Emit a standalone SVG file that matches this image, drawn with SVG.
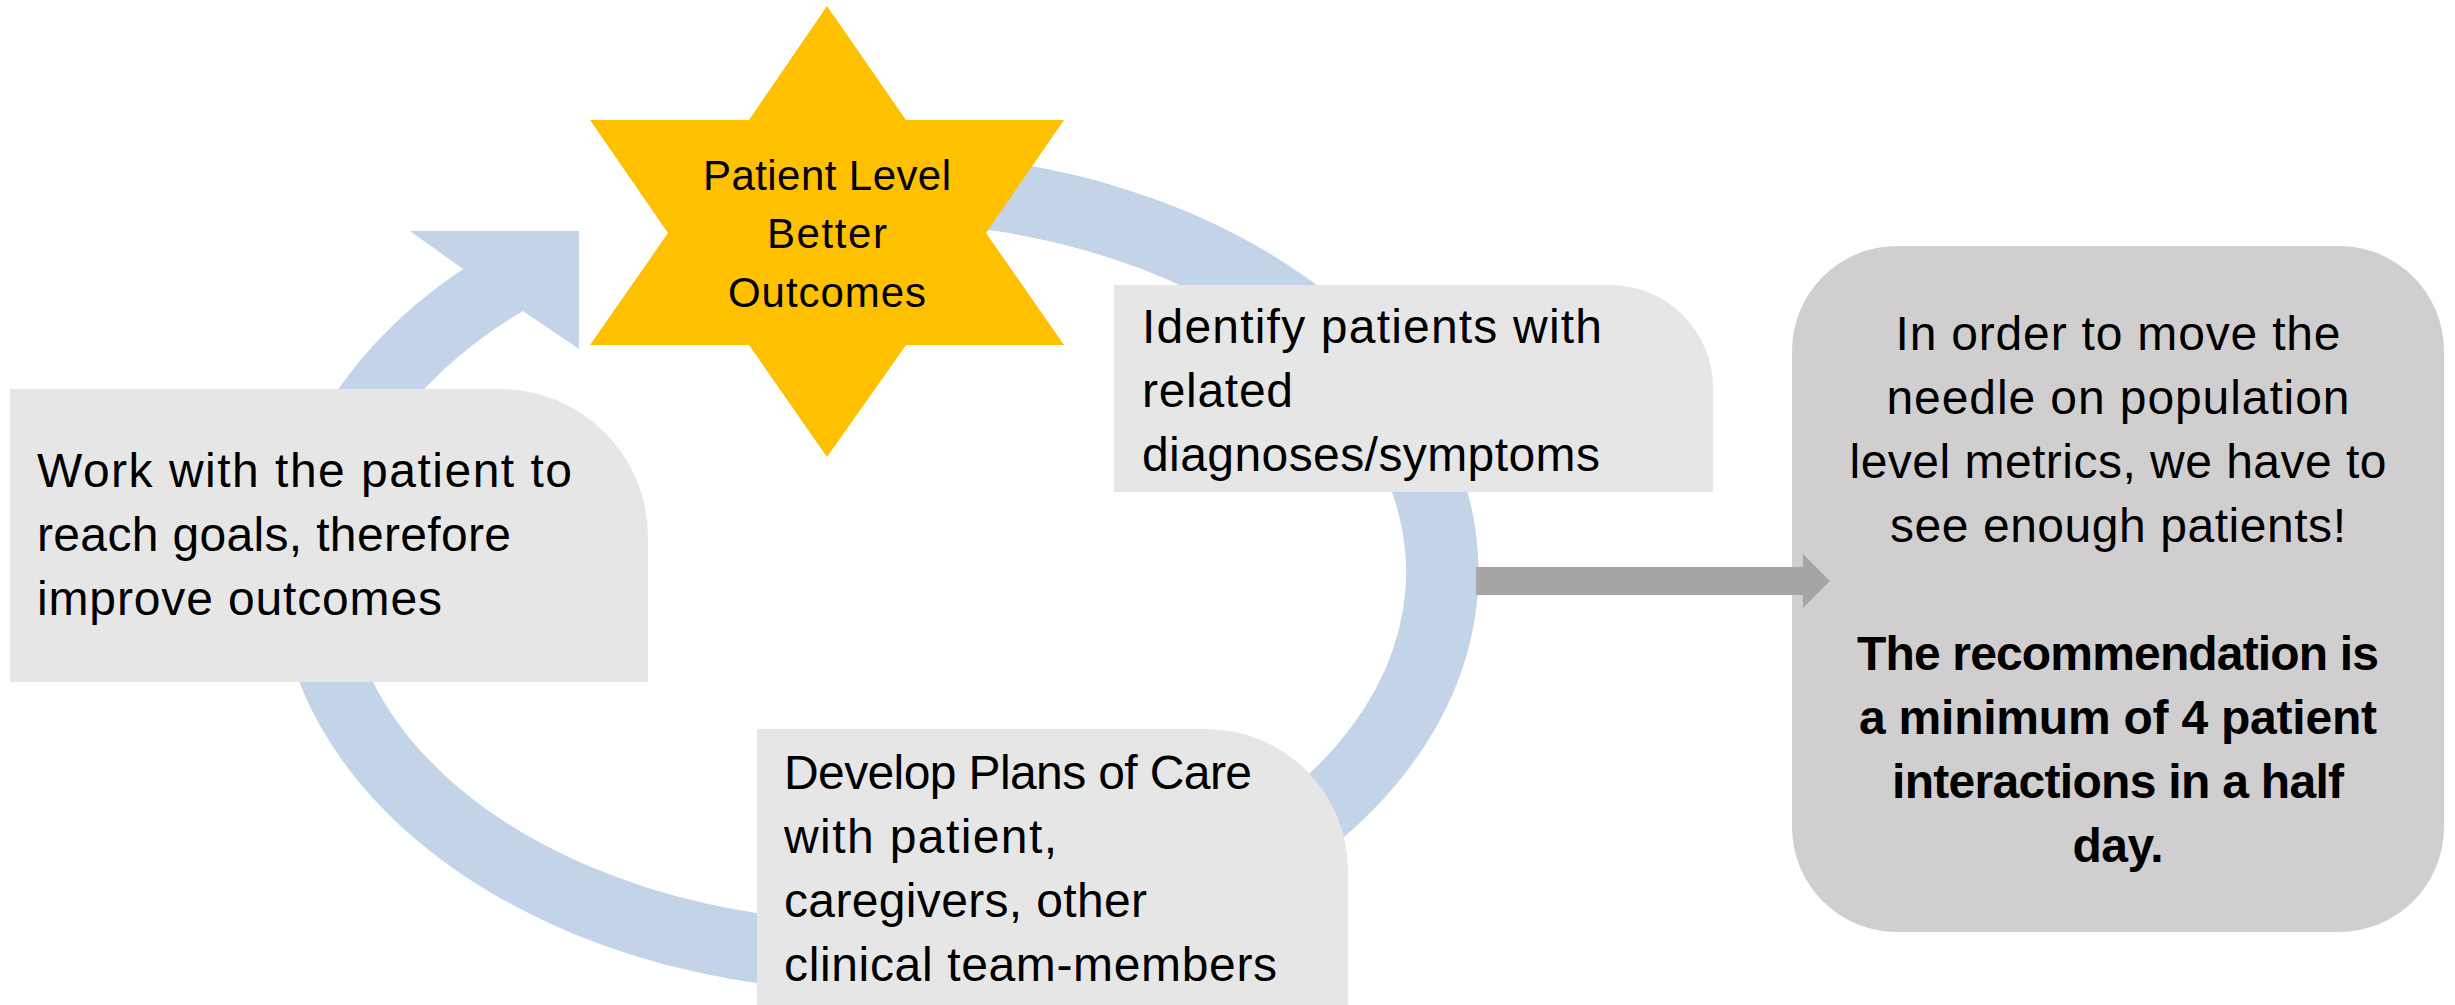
<svg xmlns="http://www.w3.org/2000/svg" width="2455" height="1005" viewBox="0 0 2455 1005">
<style>
.box{fill:#E7E6E6}
.sum{fill:#D0CECE}
.t{font-family:"Liberation Sans",Arial,sans-serif;font-size:48px;fill:#000}
.st{font-family:"Liberation Sans",Arial,sans-serif;font-size:42px;fill:#000;text-anchor:middle}
.c{text-anchor:middle}
.b{font-weight:bold}
</style>
<rect width="2455" height="1005" fill="#FFFFFF"/>
<g id="node-summary">
<rect class="sum" x="1792" y="246" width="652" height="686" rx="105" ry="105"/>
<text class="t c" x="2118" y="350" textLength="445">In order to move the</text>
<text class="t c" x="2118" y="414" textLength="463">needle on population</text>
<text class="t c" x="2118" y="478" textLength="537">level metrics, we have to</text>
<text class="t c" x="2118" y="542" textLength="456">see enough patients!</text>
<text class="t c b" x="2118" y="670" textLength="522">The recommendation is</text>
<text class="t c b" x="2118" y="734" textLength="518">a minimum of 4 patient</text>
<text class="t c b" x="2118" y="798" textLength="452">interactions in a half</text>
<text class="t c b" x="2118" y="862" textLength="91">day.</text>
</g>
<g id="connectors">
<path id="cycle-arrow" fill="#C4D4E8" d="M 878 152 A 600 420 0 1 1 463 269 L 410 231 L 579 231 L 579 349 L 523 311 A 530 350 0 1 0 878 222 Z"/>
<polygon id="arrow-to-summary" fill="#A5A5A5" points="1476,567 1803,567 1803,554 1830,581 1803,608 1803,595 1476,595"/>
</g>
<g id="node-work">
<path class="box" d="M10 389 H500 A148 148 0 0 1 648 537 V682 H10 Z"/>
<text class="t" x="37" y="487" textLength="535">Work with the patient to</text>
<text class="t" x="37" y="551" textLength="474">reach goals, therefore</text>
<text class="t" x="37" y="615" textLength="405">improve outcomes</text>
</g>
<g id="node-identify">
<path class="box" d="M1114 285 H1610 A103 103 0 0 1 1713 388 V492 H1114 Z"/>
<text class="t" x="1142" y="343" textLength="460">Identify patients with</text>
<text class="t" x="1142" y="407" textLength="151">related</text>
<text class="t" x="1142" y="471" textLength="458">diagnoses/symptoms</text>
</g>
<g id="node-develop">
<path class="box" d="M757 729 H1206 A142 142 0 0 1 1348 871 V1012 H757 Z"/>
<text class="t" x="784" y="789" textLength="468">Develop Plans of Care</text>
<text class="t" x="784" y="853" textLength="273">with patient,</text>
<text class="t" x="784" y="917" textLength="363">caregivers, other</text>
<text class="t" x="784" y="981" textLength="493">clinical team-members</text>
</g>
<g id="node-star">
<polygon fill="#FFC000" points="827,6 906,120 1064,120 986,233 1064,345 906,345 827,457 749,345 590,345 668,233 590,120 749,120"/>
<text class="st" x="827" y="190" textLength="248">Patient Level</text>
<text class="st" x="827" y="248" textLength="120">Better</text>
<text class="st" x="827" y="307" textLength="198">Outcomes</text>
</g>
</svg>
